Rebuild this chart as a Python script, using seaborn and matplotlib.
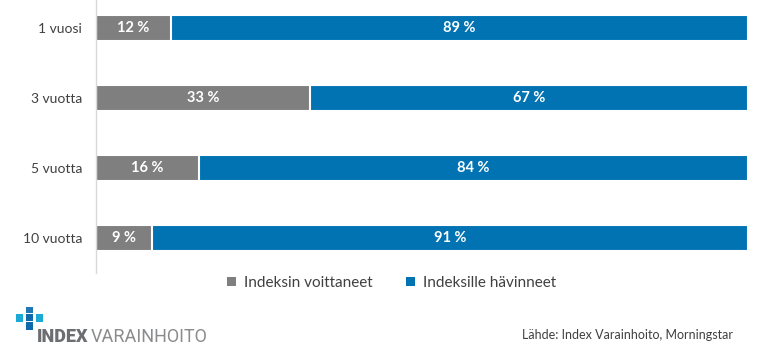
import matplotlib
matplotlib.use("Agg")
import matplotlib.pyplot as plt
from matplotlib.patches import Patch, Rectangle
import seaborn as sns
import pandas as pd

# Data (share of funds, %)
periods = ["1 vuosi", "3 vuotta", "5 vuotta", "10 vuotta"]
beat_index = [11.5, 32.8, 15.8, 8.6]      # Indeksin voittaneet
lost_to_index = [88.5, 67.2, 84.2, 91.4]  # Indeksille hävinneet
series_names = ["Indeksin voittaneet", "Indeksille hävinneet"]

GRAY = "#7F7F7F"
BLUE = "#0173B2"

sns.set_theme(style="white")
plt.rcParams["font.family"] = ["Lato", "DejaVu Sans"]

df = pd.DataFrame({
    "period": periods,
    "won": beat_index,
    "lost": lost_to_index,
})
df["total"] = df["won"] + df["lost"]

fig = plt.figure(figsize=(7.68, 3.55), dpi=100)
ax = fig.add_axes([0.125, 0.231, 0.849, 0.769])

# stacked: full bar in blue, gray segment drawn over it
sns.barplot(data=df, x="total", y="period", orient="h", color=BLUE,
            width=0.37, edgecolor="white", linewidth=1.5, saturation=1, ax=ax)
sns.barplot(data=df, x="won", y="period", orient="h", color=GRAY,
            width=0.37, edgecolor="white", linewidth=1.5, saturation=1, ax=ax)

for i, (w, l) in enumerate(zip(df["won"], df["lost"])):
    ax.text(w / 2, i, f"{int(w + 0.5)} %", ha="center", va="center",
            color="white", fontsize=10.5, fontweight="bold")
    ax.text(w + l / 2, i, f"{int(l + 0.5)} %", ha="center", va="center",
            color="white", fontsize=10.5, fontweight="bold")

ax.set_xlim(0, 100)
ax.set_ylim(3.5, -0.4)
ax.set_xlabel("")
ax.set_ylabel("")
ax.set_xticks([])
ax.tick_params(axis="y", length=0, pad=10, labelsize=10, labelcolor="#404040")
for side in ["top", "right", "bottom"]:
    ax.spines[side].set_visible(False)
ax.spines["left"].set_color("#D9D9D9")
ax.spines["left"].set_linewidth(1)

handles = [Patch(facecolor=GRAY, edgecolor="none"),
           Patch(facecolor=BLUE, edgecolor="none")]
fig.legend(handles, series_names, loc="center", bbox_to_anchor=(0.51, 0.203),
           ncol=2, frameon=False, fontsize=11, handlelength=0.6,
           handleheight=0.6, handletextpad=0.5, columnspacing=2.2,
           labelcolor="#404040")

# logo
W, H = 768, 355
def px_rect(x0, y0, x1, y1, color):
    fig.patches.append(Rectangle((x0 / W, 1 - y1 / H), (x1 - x0) / W, (y1 - y0) / H,
                                 transform=fig.transFigure, facecolor=color,
                                 edgecolor="none"))

px_rect(26, 307, 33, 313, "#1F78B4")
px_rect(16, 314, 23, 322, "#1BA9D6")
px_rect(26, 314, 33, 321, "#0E6AAE")
px_rect(36, 314, 43, 322, "#1BA9D6")
px_rect(26, 322, 33, 330, "#0E6AAE")

fig.text(37 / W, 1 - 337 / H, "INDEX", ha="left", va="center", fontsize=13,
         fontweight="heavy", color="#6D6E71", family=["Roboto", "DejaVu Sans"])
fig.text(91 / W, 1 - 337 / H, "VARAINHOITO", ha="left", va="center", fontsize=13,
         color="#8A8B8D", family=["Roboto", "DejaVu Sans"])

fig.text(733 / W, 1 - 335 / H, "Lähde: Index Varainhoito, Morningstar",
         ha="right", va="center", fontsize=9, color="#404040")

fig.savefig("out.png", dpi=100)
